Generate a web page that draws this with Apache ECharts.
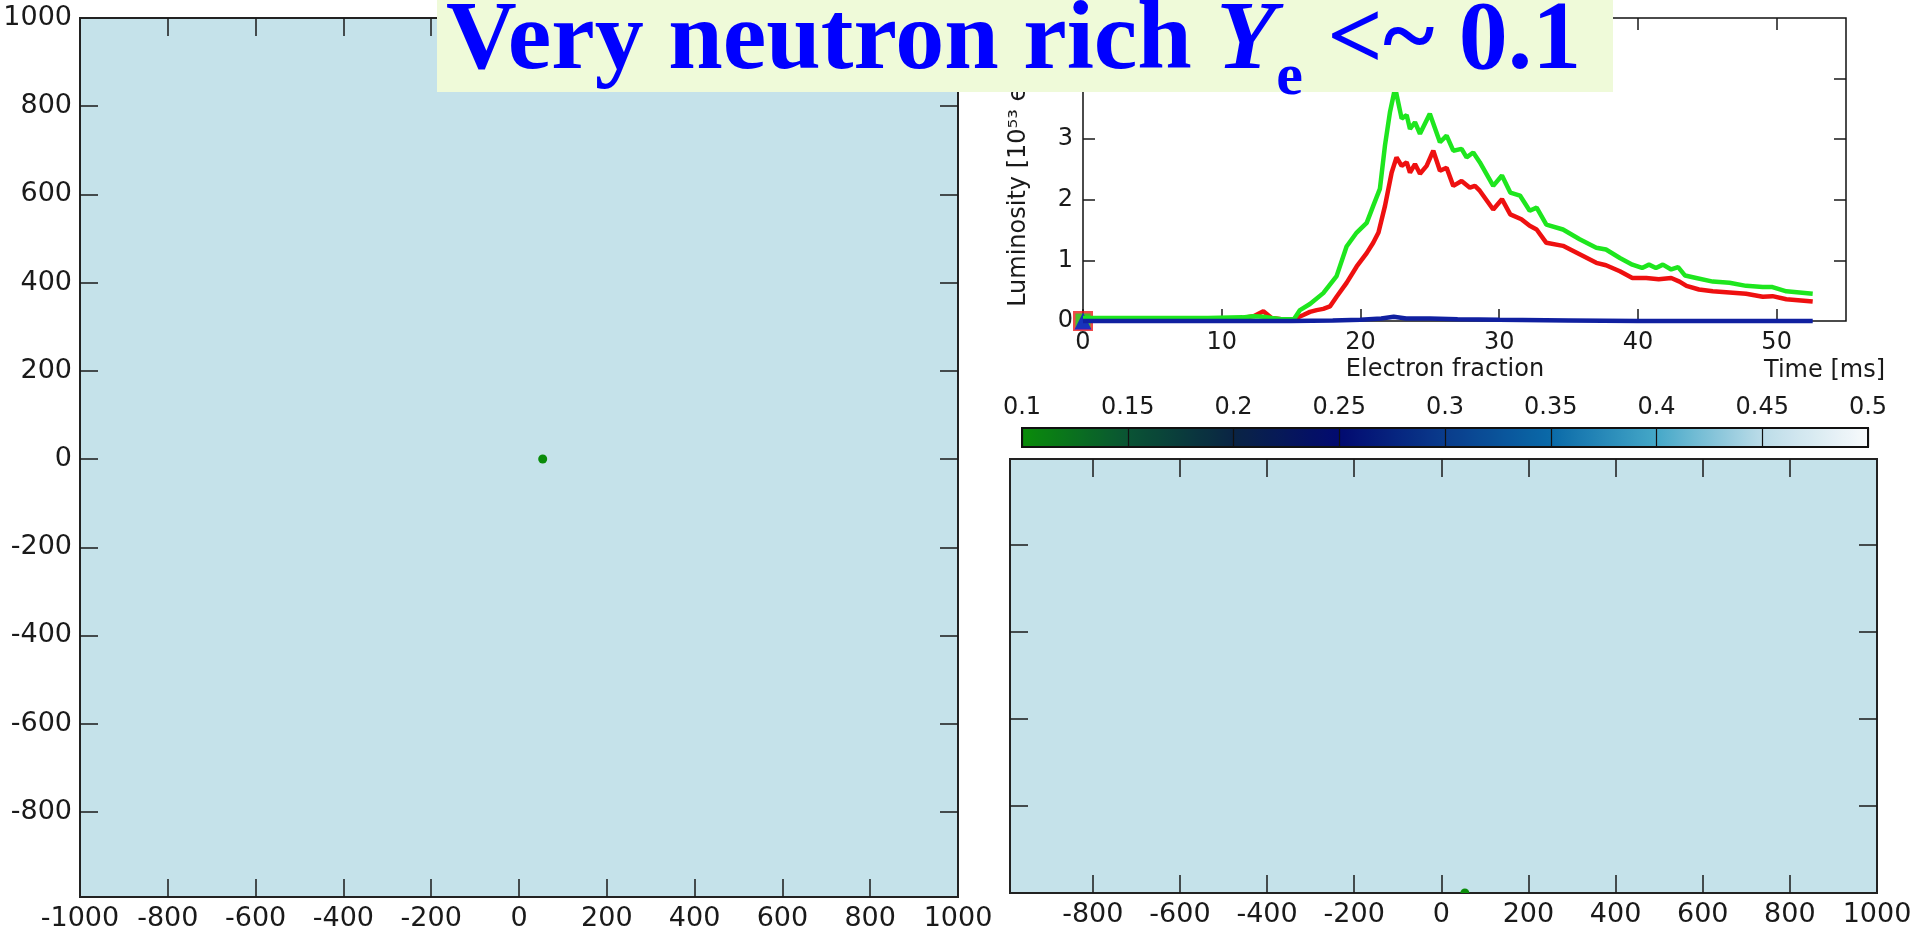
<!DOCTYPE html>
<html>
<head lang="en">
    <meta charset="UTF-8">
    <title>Very neutron rich Ye</title>
    <script src="https://cdn.jsdelivr.net/npm/echarts@6/dist/echarts.min.js"></script>
    <style>
        html, body { margin: 0; padding: 0; background: #fff; }
        #chart { width: 1926px; height: 933px; }
    </style>
</head>
<body>
<div id="chart"></div>
<script>
    // luminosity curves (time in ms, luminosity in 1e53 erg/s)
    var redTime = [0, 3, 6, 9, 11.5, 12.3, 13.0, 13.6, 14.3, 15.2, 15.88, 16.36, 16.84, 17.32, 17.8, 18.28, 19.0, 19.73, 20.45, 20.92, 21.3, 21.77, 22.25, 22.6, 22.97, 23.33, 23.57, 23.93, 24.29, 24.77, 25.25, 25.73, 26.21, 26.69, 27.29, 27.89, 28.25, 28.6, 29.57, 30.2, 30.8, 31.6, 32.2, 32.7, 33.4, 34.6, 35.8, 37.0, 37.7, 38.7, 39.6, 40.6, 41.5, 42.4, 43.0, 43.5, 44.4, 45.4, 46.6, 47.8, 49.0, 49.7, 50.7, 52.6];
    var redLum = [0.04, 0.04, 0.04, 0.04, 0.05, 0.08, 0.16, 0.05, 0.03, 0.03, 0.10, 0.15, 0.18, 0.20, 0.24, 0.40, 0.63, 0.90, 1.12, 1.29, 1.46, 1.90, 2.45, 2.70, 2.56, 2.62, 2.45, 2.59, 2.43, 2.56, 2.81, 2.48, 2.53, 2.23, 2.31, 2.20, 2.23, 2.15, 1.84, 2.01, 1.76, 1.68, 1.57, 1.51, 1.29, 1.24, 1.10, 0.96, 0.92, 0.82, 0.71, 0.71, 0.69, 0.71, 0.65, 0.58, 0.52, 0.49, 0.47, 0.45, 0.40, 0.41, 0.36, 0.32];

    var greenTime = [0, 3, 6, 9, 11.5, 12.3, 13.0, 13.6, 14.3, 15.2, 15.64, 16.36, 17.32, 18.28, 19.0, 19.73, 20.45, 20.92, 21.4, 21.77, 22.13, 22.5, 22.97, 23.33, 23.57, 23.93, 24.29, 25.0, 25.73, 26.21, 26.69, 27.29, 27.65, 28.13, 28.6, 29.57, 30.2, 30.8, 31.5, 32.2, 32.7, 33.4, 34.6, 35.8, 37.0, 37.7, 38.7, 39.6, 40.3, 40.8, 41.3, 41.8, 42.4, 42.9, 43.4, 44.2, 45.4, 46.6, 47.8, 49.0, 49.7, 50.7, 52.6];
    var greenLum = [0.05, 0.05, 0.05, 0.05, 0.06, 0.08, 0.07, 0.05, 0.03, 0.03, 0.18, 0.28, 0.46, 0.74, 1.23, 1.46, 1.62, 1.90, 2.18, 2.90, 3.45, 3.85, 3.34, 3.40, 3.17, 3.28, 3.09, 3.42, 2.95, 3.06, 2.81, 2.84, 2.70, 2.78, 2.62, 2.23, 2.40, 2.12, 2.07, 1.82, 1.87, 1.59, 1.51, 1.35, 1.21, 1.18, 1.04, 0.93, 0.875, 0.93, 0.875, 0.93, 0.85, 0.89, 0.75, 0.71, 0.65, 0.63, 0.58, 0.56, 0.56, 0.49, 0.45];

    var blueTime = [0, 10, 15, 18, 20, 21.5, 22.4, 23.3, 25, 27, 30, 35, 40, 52.6];
    var blueLum = [0, 0, 0, 0.01, 0.02, 0.04, 0.07, 0.04, 0.04, 0.03, 0.02, 0.01, 0, 0];

    // current-time markers
    var markerTime = [0];
    var markerLum = [0];

    // the hot spot in the density slices: x, y (or z) in km and its electron fraction
    var spotX = [54];
    var spotY = [0];
    var spotYe = [0.1];

    // tick values
    var lumTimeTicks = [0, 10, 20, 30, 40, 50];
    var lumTicks = [0, 1, 2, 3, 4];
    var mapLabelsX = [-1000, -800, -600, -400, -200, 0, 200, 400, 600, 800, 1000];
    var mapLabelsY = [-800, -600, -400, -200, 0, 200, 400, 600, 800, 1000];
    var mapTicks = [-800, -600, -400, -200, 0, 200, 400, 600, 800];
    var sideLabelsX = [-800, -600, -400, -200, 0, 200, 400, 600, 800, 1000];
    var sideTicksZ = [200, 400, 600, 800];

    // colour scale of the electron fraction
    var yeColors = ['#0a8c0a', '#0a5434', '#0a2444', '#020a70', '#0a3c8c', '#0a6aa8', '#45a8c8', '#bcdce8', '#f8fafc'];

    function zip(a, b) {
        return a.map(function (v, i) { return [v, b[i]]; });
    }

    function plain(v) {
        return String(v);
    }

    var ink = '#1a1a1a';
    var plotFont = 'DejaVu Sans';
    var mapFontSize = 27;

    function mapAxis(min, max, labels, ticks, extra) {
        var ax = {
            type: 'value', min: min, max: max,
            axisLine: { show: false, onZero: false },
            splitLine: { show: false },
            axisTick: { show: true, inside: true, length: 18, customValues: ticks, lineStyle: { color: ink, width: 1.5 } },
            axisLabel: labels ? {
                customValues: labels, color: ink, margin: 8, formatter: plain,
                fontFamily: plotFont, fontSize: mapFontSize
            } : { show: false }
        };
        for (var k in extra) ax[k] = extra[k];
        return ax;
    }

    function lumAxis(min, max, labels, ticks, extra) {
        var ax = {
            type: 'value', min: min, max: max,
            axisLine: { show: false, onZero: false },
            splitLine: { show: false },
            axisTick: { show: true, inside: true, length: 12, customValues: ticks, lineStyle: { color: ink, width: 1.5 } },
            axisLabel: labels ? {
                customValues: labels, color: ink, margin: 10, formatter: plain,
                fontFamily: plotFont, fontSize: 24
            } : { show: false },
            nameMoveOverlap: false
        };
        for (var k in extra) ax[k] = extra[k];
        return ax;
    }

    var chart = echarts.init(document.getElementById('chart'), null, { renderer: 'canvas' });

    var option = {
        backgroundColor: '#ffffff',
        animation: false,
        grid: [
            // x-y slice
            { left: 80, top: 18, width: 878, height: 879, show: true, backgroundColor: '#c5e2ea', borderColor: '#222', borderWidth: 2, outerBoundsMode: 'none' },
            // luminosity
            { left: 1083, top: 18, width: 763, height: 303, show: true, backgroundColor: '#ffffff', borderColor: '#111', borderWidth: 1.5, outerBoundsMode: 'none' },
            // colour bar frame
            { left: 1022, top: 428, width: 846, height: 19, show: true, backgroundColor: 'transparent', borderColor: '#111', borderWidth: 2, z: 5, outerBoundsMode: 'none' },
            // x-z slice
            { left: 1010, top: 459, width: 867, height: 434, show: true, backgroundColor: '#c5e2ea', borderColor: '#222', borderWidth: 2, outerBoundsMode: 'none' }
        ],
        xAxis: [
            mapAxis(-1000, 1000, mapLabelsX, mapTicks, { gridIndex: 0, position: 'bottom' }),
            mapAxis(-1000, 1000, null, mapTicks, { gridIndex: 0, position: 'top' }),
            lumAxis(0, 55, lumTimeTicks, lumTimeTicks, {
                gridIndex: 1, position: 'bottom',
                name: 'Time [ms]', nameLocation: 'end', nameGap: 39,
                nameTextStyle: { fontFamily: plotFont, fontSize: 24, color: ink, align: 'right', verticalAlign: 'top', padding: [38, 0, 0, 0] }
            }),
            lumAxis(0, 55, null, lumTimeTicks, { gridIndex: 1, position: 'top' }),
            {
                gridIndex: 2, type: 'value', min: 0.1, max: 0.5, interval: 0.05, position: 'top', z: 5,
                axisLine: { show: false, onZero: false },
                axisTick: { show: false },
                splitLine: { show: true, lineStyle: { color: '#111', width: 1.2 } },
                axisLabel: { color: ink, fontFamily: plotFont, fontSize: 24, margin: 8 },
                name: 'Electron fraction', nameLocation: 'middle', nameGap: 46, nameMoveOverlap: false,
                nameTextStyle: { fontFamily: plotFont, fontSize: 24, color: ink }
            },
            mapAxis(-990, 1000, sideLabelsX, mapTicks, { gridIndex: 3, position: 'bottom' }),
            mapAxis(-990, 1000, null, mapTicks, { gridIndex: 3, position: 'top' })
        ],
        yAxis: [
            mapAxis(-993, 1000, mapLabelsY, mapTicks, { gridIndex: 0, position: 'left' }),
            mapAxis(-993, 1000, null, mapTicks, { gridIndex: 0, position: 'right' }),
            lumAxis(0, 5, lumTicks, [1, 2, 3, 4], {
                gridIndex: 1, position: 'left',
                name: 'Luminosity [10\u2075\u00b3 erg/s]', nameLocation: 'middle', nameGap: 52,
                nameTextStyle: { fontFamily: plotFont, fontSize: 24, color: ink }
            }),
            lumAxis(0, 5, null, [1, 2, 3, 4], { gridIndex: 1, position: 'right' }),
            { gridIndex: 2, type: 'value', min: 0, max: 1, show: false },
            mapAxis(0, 997, null, sideTicksZ, { gridIndex: 3, position: 'left' }),
            mapAxis(0, 997, null, sideTicksZ, { gridIndex: 3, position: 'right' })
        ],
        visualMap: {
            type: 'continuous',
            min: 0.1, max: 0.5,
            orient: 'horizontal',
            left: 1022, top: 428,
            itemWidth: 19, itemHeight: 846,
            padding: 0,
            calculable: false,
            text: null,
            hoverLink: false,
            seriesIndex: [0, 1],
            dimension: 2,
            inRange: { color: yeColors },
            z: 1
        },
        graphic: [
            {
                type: 'rect', left: 437, top: 0, z: 100,
                shape: { width: 1176, height: 92 },
                style: { fill: '#effad9' }
            },
            {
                type: 'text', left: 446, top: -6, z: 101,
                style: {
                    text: '{a|Very neutron rich }{y|Y}{s|e}{a| <~ 0.1}',
                    fill: '#0000ff',
                    rich: {
                        a: { fontFamily: 'Liberation Serif', fontWeight: 'bold', fontSize: 98, lineHeight: 130, fill: '#0000ff' },
                        y: { fontFamily: 'Liberation Serif', fontWeight: 'bold', fontStyle: 'italic', fontSize: 98, lineHeight: 130, fill: '#0000ff' },
                        s: { fontFamily: 'Liberation Serif', fontWeight: 'bold', fontSize: 60, lineHeight: 40, verticalAlign: 'bottom', fill: '#0000ff' }
                    }
                }
            }
        ],
        series: [
            {
                type: 'custom', xAxisIndex: 0, yAxisIndex: 0, clip: true,
                data: spotX.map(function (x, i) { return [x, spotY[i], spotYe[i]]; }),
                renderItem: function (params, api) {
                    var p = api.coord([api.value(0), api.value(1)]);
                    return { type: 'circle', shape: { cx: p[0], cy: p[1], r: 4.5 }, style: { fill: api.visual('color') } };
                }
            },
            {
                type: 'custom', xAxisIndex: 5, yAxisIndex: 5, clip: true,
                data: spotX.map(function (x, i) { return [x, spotY[i], spotYe[i]]; }),
                renderItem: function (params, api) {
                    var p = api.coord([api.value(0), api.value(1)]);
                    return { type: 'circle', shape: { cx: p[0], cy: p[1], r: 4.5 }, style: { fill: api.visual('color') } };
                }
            },
            {
                name: 'red', type: 'line', xAxisIndex: 2, yAxisIndex: 2, clip: false,
                data: zip(redTime, redLum), symbol: 'none',
                lineStyle: { color: '#ee1010', width: 4.5 }
            },
            {
                name: 'green', type: 'line', xAxisIndex: 2, yAxisIndex: 2, clip: false,
                data: zip(greenTime, greenLum), symbol: 'none',
                lineStyle: { color: '#1ee61e', width: 4.5 }
            },
            {
                name: 'blue', type: 'line', xAxisIndex: 2, yAxisIndex: 2, clip: false,
                data: zip(blueTime, blueLum), symbol: 'none',
                lineStyle: { color: '#1020a0', width: 4.5 }
            },
            {
                type: 'scatter', xAxisIndex: 2, yAxisIndex: 2, clip: false,
                data: zip(markerTime, markerLum), symbol: 'rect', symbolSize: 20,
                itemStyle: { color: '#ee1c1c' }
            },
            {
                type: 'scatter', xAxisIndex: 2, yAxisIndex: 2, clip: false,
                data: zip(markerTime, markerLum), symbol: 'rect', symbolSize: 15,
                itemStyle: { color: '#22dd22' }
            },
            {
                type: 'scatter', xAxisIndex: 2, yAxisIndex: 2, clip: false,
                data: zip(markerTime, markerLum), symbol: 'triangle', symbolSize: 17,
                itemStyle: { color: '#0a10e0' }
            }
        ]
    };

    chart.setOption(option);
</script>
</body>
</html>
